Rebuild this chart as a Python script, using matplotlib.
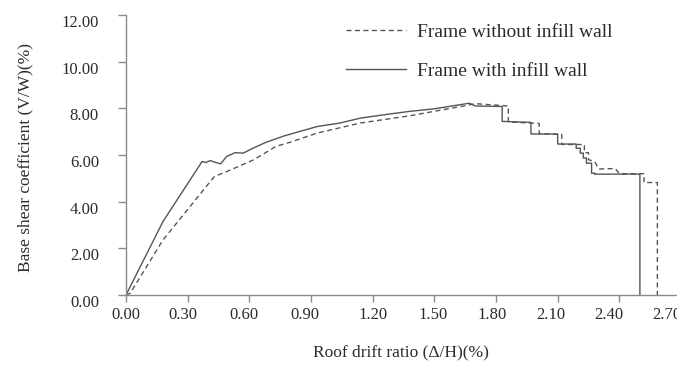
import numpy as np
import matplotlib
matplotlib.use("Agg")
import matplotlib.pyplot as plt
import matplotlib.transforms as mtransforms

# Data
# Frame with infill wall (solid)
x_with = [0.00, 0.18, 0.37, 0.39, 0.41, 0.43, 0.46, 0.49, 0.53, 0.57, 0.62, 0.68,
          0.77, 0.85, 0.93, 1.04, 1.14, 1.26, 1.38, 1.50, 1.60, 1.67, 1.70, 1.83,
          1.83, 1.97, 1.97, 2.10, 2.10, 2.19, 2.19, 2.21, 2.21, 2.225, 2.225, 2.24,
          2.24, 2.265, 2.265, 2.28, 2.28, 2.50, 2.50]
y_with = [0.00, 3.15, 5.72, 5.68, 5.76, 5.70, 5.62, 5.94, 6.10, 6.08, 6.30, 6.54,
          6.82, 7.02, 7.22, 7.37, 7.58, 7.73, 7.87, 7.98, 8.12, 8.22, 8.10, 8.08,
          7.44, 7.40, 6.90, 6.90, 6.47, 6.47, 6.29, 6.29, 6.08, 6.08, 5.87, 5.87,
          5.65, 5.65, 5.22, 5.22, 5.18, 5.18, 0.00]

# Frame without infill wall (dashed)
x_without = [0.00, 0.02, 0.18, 0.43, 0.49, 0.62, 0.73, 0.80, 0.93, 1.14, 1.38, 1.63,
             1.70, 1.86, 1.86, 2.01, 2.01, 2.12, 2.12, 2.23, 2.23, 2.25, 2.25, 2.28,
             2.30, 2.38, 2.40, 2.52, 2.52, 2.585, 2.585]
y_without = [0.00, 0.07, 2.36, 5.08, 5.29, 5.79, 6.37, 6.55, 6.94, 7.37, 7.68, 8.08,
             8.20, 8.10, 7.42, 7.35, 6.92, 6.88, 6.45, 6.45, 6.10, 6.10, 5.80, 5.72,
             5.40, 5.42, 5.20, 5.20, 4.82, 4.82, 0.00]

x_ticks = [0.00, 0.30, 0.60, 0.90, 1.20, 1.50, 1.80, 2.10, 2.40, 2.70]
y_ticks = [0.00, 2.00, 4.00, 6.00, 8.00, 10.00, 12.00]

# in the original the x labels drift left of their ticks (pixels)
x_label_shift = [0, -5, -5, -6, 0, -1, -4, -7, -11, -14]

TEXT = "#2b2b2b"
SPINE = "#8a8a8a"
LINE = "#555555"

plt.rcParams['font.family'] = ['Liberation Serif', 'DejaVu Serif']

fig = plt.figure(figsize=(6.77, 3.69), dpi=100)
# axes runs past the right edge, so the 2.70 label is cut like in the reference
ax = fig.add_axes([126 / 677, 74 / 369, 555 / 677, 280 / 369])

ax.plot(x_without, y_without, color=LINE, lw=1.0, ls=(0, (3.6, 2.5)),
        label="Frame without infill wall")
ax.plot(x_with, y_with, color=LINE, lw=1.0, label="Frame with infill wall")

ax.set_xlim(0, 2.70)
ax.set_ylim(0, 12)
ax.set_xticks(x_ticks)
ax.set_xticklabels(["%.2f" % v for v in x_ticks])
ax.set_yticks(y_ticks)
ax.set_yticklabels(["%.2f" % v for v in y_ticks])

for s in ["top", "right"]:
    ax.spines[s].set_visible(False)
for s in ["left", "bottom"]:
    ax.spines[s].set_color(SPINE)
    ax.spines[s].set_linewidth(1.0)

ax.tick_params(axis="x", direction="out", length=5, width=1, color=SPINE,
               pad=3.5, labelsize=12, labelcolor=TEXT)
ax.tick_params(axis="y", direction="out", length=6, width=1, color=SPINE,
               pad=13.5, labelsize=12, labelcolor=TEXT)

# y labels sit a bit below their ticks in the original
offset = mtransforms.ScaledTranslation(0, -6 / 100, fig.dpi_scale_trans)
for lab in ax.get_yticklabels():
    lab.set_transform(lab.get_transform() + offset)
for lab, dx in zip(ax.get_xticklabels(), x_label_shift):
    sh = mtransforms.ScaledTranslation(dx / 100, 0, fig.dpi_scale_trans)
    lab.set_transform(lab.get_transform() + sh)

fig.text(25 / 677, 1 - 158 / 369, "Base shear coefficient (V/W)(%)", rotation=90,
         ha="center", va="center", fontsize=12.5, color=TEXT)
fig.text(401 / 677, 1 - 352 / 369, "Roof drift ratio (\u0394/H)(%)",
         ha="center", va="center", fontsize=12.5, color=TEXT)

leg = ax.legend(loc="upper left", bbox_to_anchor=(346 / 677, 1 - 23 / 369),
                bbox_transform=fig.transFigure, frameon=False, fontsize=14,
                handlelength=3.1, handletextpad=0.57, labelspacing=1.1,
                borderpad=0, borderaxespad=0)
for t in leg.get_texts():
    t.set_color(TEXT)

fig.savefig("out.png", dpi=100)
